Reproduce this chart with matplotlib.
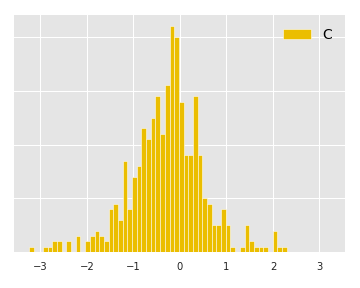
import numpy as np
import matplotlib
matplotlib.use("Agg")
import matplotlib.pyplot as plt

# counts per bin (55 bins)
counts = [1, 0, 0, 1, 1, 2, 2, 0, 2, 0,
          3, 0, 2, 3, 4, 3, 2, 8, 9, 6,
          17, 8, 14, 16, 23, 21, 25, 29, 22, 31,
          42, 40, 28, 18, 18, 29, 18, 10, 9, 5,
          5, 8, 5, 1, 0, 1, 5, 2, 1, 1,
          1, 0, 4, 1, 1]
bin_lo = -3.25
bin_hi = 2.297
label = "C"
xticks = [-3, -2, -1, 0, 1, 2, 3]
ygrid = [10, 20, 30, 40]

edges = np.linspace(bin_lo, bin_hi, len(counts) + 1)
centers = (edges[:-1] + edges[1:]) / 2

plt.style.use("ggplot")
fig = plt.figure(figsize=(5, 4), dpi=72)
ax = fig.add_axes([14 / 360, 36 / 288, 331 / 360, 237 / 288])
ax.set_facecolor("#E5E5E5")

ax.hist(centers, bins=edges, weights=counts, color="#EBBE00",
        edgecolor="white", linewidth=0.5, label=label)

ax.set_xlim(-3.57, 3.55)
ax.set_xticks(xticks)
ax.set_xticklabels([str(t).replace("-", "\u2212") for t in xticks])
ax.set_yticks(ygrid)
ax.tick_params(axis="y", labelleft=False, length=0)
ax.tick_params(axis="x", length=0, pad=10, labelsize=10, labelcolor="#222222")
ax.grid(True, color="white", linewidth=1)
for sp in ax.spines.values():
    sp.set_visible(False)

ax.legend(loc="upper right", frameon=False, fontsize=14)

fig.savefig("out.png", dpi=72)
